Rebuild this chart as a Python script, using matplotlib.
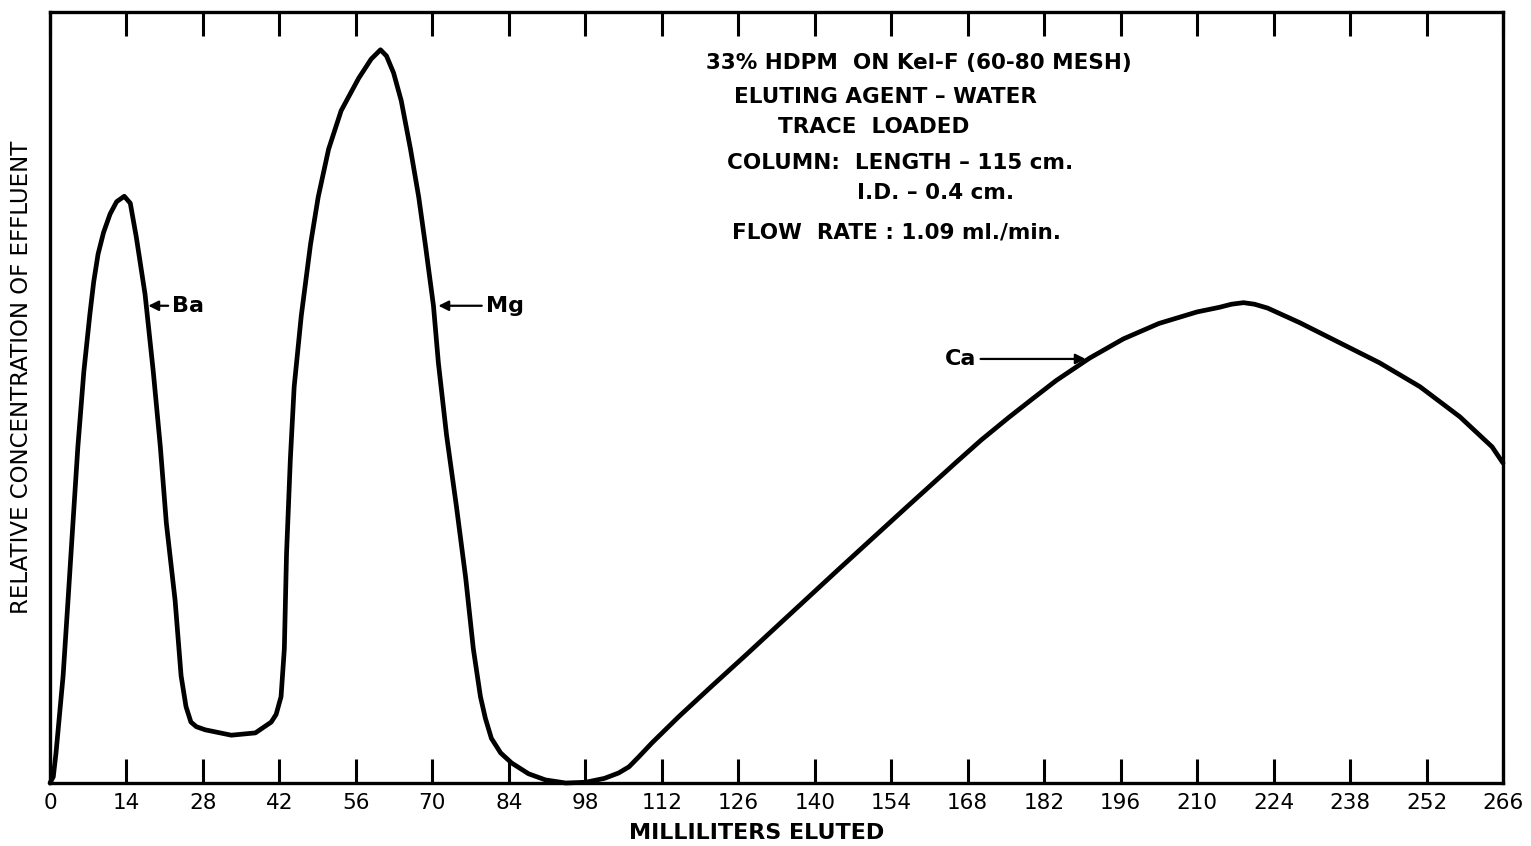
import matplotlib
matplotlib.use("Agg")
import matplotlib.pyplot as plt

# ---- data (ml eluted vs. relative concentration, 0-100 scale) ----
ba_ml   = [0.0, 0.6, 1.1, 2.4, 3.3, 4.2, 5.1, 6.2, 7.3, 8.0, 8.8, 9.8, 11.0, 12.2, 13.6,
           14.7, 15.8, 17.4, 18.9, 20.2, 21.3, 22.9, 24.0, 24.9, 25.8, 26.8, 28.4, 33.2,
           37.6, 40.5, 41.4]
ba_conc = [0.0, 0.8, 3.9, 13.9, 23.7, 33.7, 43.6, 53.4, 60.8, 65.0, 68.6, 71.4, 73.8, 75.4,
           76.1, 75.2, 70.8, 63.4, 53.4, 43.6, 33.7, 23.7, 13.9, 9.9, 7.9, 7.3, 6.9, 6.2,
           6.5, 7.9, 8.9]

mg_ml   = [42.3, 42.9, 43.3, 44.0, 44.7, 46.0, 47.7, 49.1, 51.0, 53.3, 56.5, 58.8, 60.5,
           61.6, 62.9, 64.3, 66.0, 67.5, 68.7, 70.2, 71.1, 72.6, 74.4, 76.1, 77.5, 78.8,
           79.7, 80.8, 82.5, 84.5, 87.6, 90.7, 94.4, 98.1]
mg_conc = [11.2, 17.4, 29.7, 42.0, 51.4, 60.6, 69.9, 76.0, 82.2, 87.2, 91.4, 93.9, 95.1,
           94.3, 92.1, 88.5, 82.2, 76.0, 69.9, 61.9, 54.5, 45.1, 35.9, 26.6, 17.4, 11.2,
           8.4, 5.8, 3.9, 2.6, 1.2, 0.4, 0.0, 0.1]

ca_ml   = [101.5, 104.1, 106.0, 107.8, 110.2, 115.1, 121.2, 127.4, 133.5, 144.5, 156.7,
           165.9, 170.5, 175.5, 180.0, 184.2, 190.3, 196.5, 203.0, 210.0, 214.1, 216.3,
           218.5, 220.5, 222.9, 228.8, 236.1, 243.4, 250.8, 258.1, 264.0, 266.0]
ca_conc = [0.6, 1.3, 2.1, 3.4, 5.2, 8.6, 12.6, 16.6, 20.6, 27.8, 35.7,
           41.6, 44.5, 47.4, 49.9, 52.2, 55.1, 57.6, 59.6, 61.1, 61.7, 62.1,
           62.3, 62.1, 61.6, 59.7, 57.1, 54.5, 51.4, 47.5, 43.6, 41.5]

tick_values = list(range(0, 267, 14))
tick_labels = [str(v) for v in tick_values]

info_lines = ["33% HDPM  ON Kel-F (60-80 MESH)",
              "ELUTING AGENT \u2013 WATER",
              "TRACE  LOADED",
              "COLUMN:  LENGTH \u2013 115 cm.",
              "I.D. \u2013 0.4 cm.",
              "FLOW  RATE : 1.09 ml./min."]

# ---- figure ----
plt.rcParams['font.family'] = ['DejaVu Sans']
fig = plt.figure(figsize=(15.31, 8.46), dpi=100)
W, H = 1531, 846
X0, X1, Y0, Y1 = 50, 1503, 12, 783
ax = fig.add_axes([X0 / W, 1 - Y1 / H, (X1 - X0) / W, (Y1 - Y0) / H])

x_all = ba_ml + mg_ml + ca_ml
y_all = ba_conc + mg_conc + ca_conc
ax.plot(x_all, y_all, color='black', lw=3.4, solid_joinstyle='round',
        solid_capstyle='round', clip_on=False)

ax.set_xlim(0, 266)
ax.set_ylim(0, 100)
ax.set_xticks(tick_values)
ax.set_xticklabels(tick_labels, fontsize=15.5)
ax.set_yticks([])
ax.tick_params(axis='x', direction='in', length=17, width=2.2, top=True,
               bottom=True, pad=7, labelcolor='black')
for s in ax.spines.values():
    s.set_linewidth(2.4)


def ax_frac(px, py):
    return ((px - X0) / (X1 - X0), (Y1 - py) / (Y1 - Y0))


fx, fy = ax_frac(757, 833)
ax.text(fx, fy, "MILLILITERS ELUTED", transform=ax.transAxes,
        ha='center', va='center', fontsize=16, fontweight='bold')
fx, fy = ax_frac(22, 377)
ax.text(fx, fy, "RELATIVE CONCENTRATION OF EFFLUENT", transform=ax.transAxes,
        ha='center', va='center', rotation=90, fontsize=16.5)

# info block (line centres measured in pixels, converted to axes fraction)
info_pos = [(919, 63), (885, 97), (874, 127), (900, 163), (936, 193), (897, 233)]
for txt, (px, py) in zip(info_lines, info_pos):
    fx, fy = ax_frac(px, py)
    ax.text(fx, fy, txt, transform=ax.transAxes, ha='center', va='center',
            fontsize=15.5, fontweight='bold')

# peak labels with arrows
arrow = dict(arrowstyle='-|>', color='black', lw=1.6, mutation_scale=15,
             shrinkA=1, shrinkB=0)
ax.annotate("Ba", xy=(18.0, 61.9), xytext=(22.4, 61.9), fontsize=16,
            fontweight='bold', va='center', ha='left', arrowprops=arrow)
ax.annotate("Mg", xy=(71.1, 61.9), xytext=(79.8, 61.9), fontsize=16,
            fontweight='bold', va='center', ha='left', arrowprops=arrow)
ax.annotate("Ca", xy=(189.6, 55.0), xytext=(169.6, 55.0), fontsize=16,
            fontweight='bold', va='center', ha='right', arrowprops=arrow)

fig.savefig("out.png", dpi=100)
